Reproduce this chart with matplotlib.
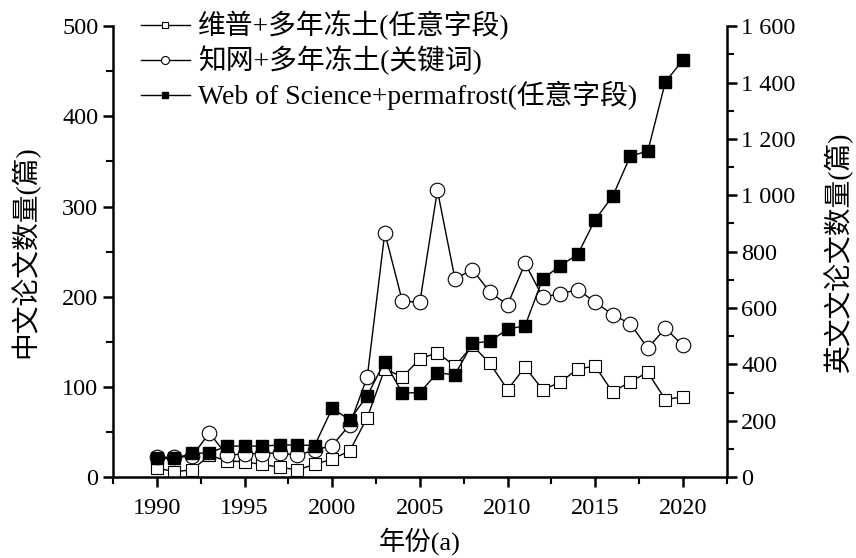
import numpy as np
import matplotlib.pyplot as plt
from matplotlib.ticker import MultipleLocator, FuncFormatter

plt.rcParams['font.family'] = ['Liberation Serif', 'Noto Sans CJK SC']
plt.rcParams['axes.unicode_minus'] = False

# data
years = list(range(1990, 2021))
vip = [10, 6, 8, 24, 18, 17, 14, 11, 8, 14, 20, 29, 66, 120, 111, 131, 138, 123,
       146, 126, 97, 122, 97, 105, 120, 123, 94, 106, 116, 86, 89]
cnki = [22, 22, 23, 49, 24, 26, 26, 27, 24, 30, 35, 58, 111, 271, 195, 194, 318, 220,
        230, 205, 191, 237, 200, 203, 208, 194, 180, 170, 143, 165, 146]
wos = [66, 66, 84, 86, 110, 110, 110, 114, 114, 112, 244, 203, 289, 410, 298, 300, 370, 363,
       475, 482, 525, 537, 703, 750, 790, 914, 997, 1139, 1157, 1402, 1480]

labels = ['维普+多年冻土(任意字段)', '知网+多年冻土(关键词)', 'Web of Science+permafrost(任意字段)']

fig = plt.figure(figsize=(8.56, 5.58), dpi=100)
ax = fig.add_axes([0.132, 0.145, 0.717, 0.808])
ax2 = ax.twinx()

l1, = ax.plot(years, vip, '-', color='black', lw=1, marker='s', ms=8,
              mfc='white', mec='black', mew=0.8)
l2, = ax.plot(years, cnki, '-', color='black', lw=1, marker='o', ms=10.5,
              mfc='white', mec='black', mew=0.8)
l3, = ax2.plot(years, wos, '-', color='black', lw=1, marker='s', ms=8,
               mfc='black', mec='black')

ax.set_xlim(1987.5, 2022.5)
ax.set_ylim(0, 500)
ax2.set_ylim(0, 1600)

ax.xaxis.set_major_locator(MultipleLocator(5))
ax.xaxis.set_minor_locator(MultipleLocator(2.5))
ax.yaxis.set_major_locator(MultipleLocator(100))
ax.yaxis.set_minor_locator(MultipleLocator(50))
ax2.yaxis.set_major_locator(MultipleLocator(200))
ax2.yaxis.set_minor_locator(MultipleLocator(100))
ax2.yaxis.set_major_formatter(FuncFormatter(
    lambda v, p: f'{int(v):,}'.replace(',', ' ')))

for a in (ax, ax2):
    a.spines['top'].set_visible(False)
    for s in a.spines.values():
        s.set_linewidth(1.8)
    a.tick_params(which='major', direction='out', length=7, width=1.8, labelsize=17.5)
    a.tick_params(which='minor', direction='out', length=5, width=1.5)
ax.tick_params(axis='x', pad=8)
ax.spines['right'].set_visible(False)
ax2.spines['left'].set_visible(False)
ax2.spines['bottom'].set_visible(False)

ax.set_xlabel('年份(a)', fontsize=19, labelpad=6)
ax.set_ylabel('中文论文数量(篇)', fontsize=20, labelpad=16)
ax2.set_ylabel('英文文论文数量(篇)', fontsize=20, labelpad=20)

leg = ax.legend([l1, l2, l3], labels, loc='upper left', bbox_to_anchor=(0.005, 1.09),
                frameon=False, fontsize=20, markerscale=0.55, handlelength=1.75,
                handletextpad=0.3, labelspacing=0.2)

fig.savefig('out.png', dpi=100)
